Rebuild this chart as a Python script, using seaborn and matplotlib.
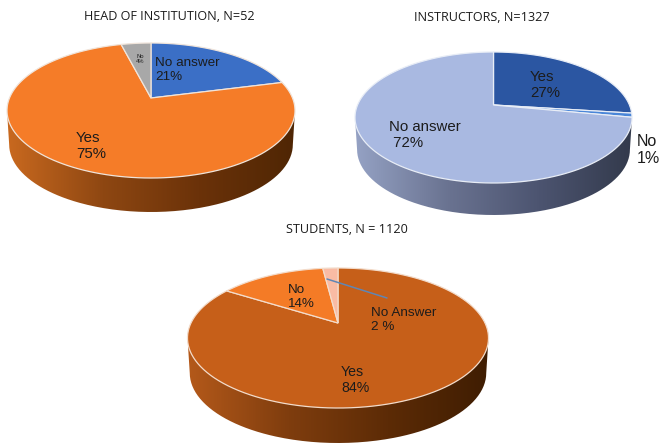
import numpy as np
import matplotlib
matplotlib.use("Agg")
import matplotlib.pyplot as plt
import matplotlib.transforms as mtransforms
from matplotlib.path import Path
from matplotlib.patches import PathPatch
from matplotlib.colors import LinearSegmentedColormap
import seaborn as sns

# ---- data ----
head_labels = ["No answer", "Yes", "No"]
head_values = [21, 75, 4]
instr_labels = ["Yes", "No", "No answer"]
instr_values = [27, 1, 72]
stud_labels = ["Yes", "No", "No Answer"]
stud_values = [84, 14, 2]

head_colors = ["#3b6fc6", "#f57c28", "#a8a8a8"]
instr_colors = ["#2b56a2", "#4a86d8", "#a9b9e1"]
stud_colors = ["#c65f19", "#f47b26", "#f9bba4"]

head_side = ["#c9691f", "#8e4712", "#6b3209", "#4f2604"]
instr_side = ["#95a2c4", "#6a7391", "#4c5470", "#333a4c"]
stud_side = ["#b4591a", "#7f3d0e", "#5c2b06", "#3f1d02"]

sns.set_theme(style="white")
TITLE_FONT = ["Open Sans", "DejaVu Sans"]
LABEL_FONT = ["Liberation Sans", "DejaVu Sans"]
INK = "#1c1c1c"


class Perspective(mtransforms.Transform):
    """Projects the unit-circle pie onto a tilted disc in pixel coordinates."""
    input_dims = output_dims = 2

    def __init__(self, cx, top, apex, bottom, rx):
        super().__init__()
        t, b = apex - top, bottom - apex
        self.k = (b - t) / (b + t)
        self.a = t * (1 + self.k)
        self.A = rx * np.sqrt(1 - self.k ** 2)
        self.cx, self.apex = cx, apex

    def transform_non_affine(self, xy):
        xy = np.asarray(xy, float)
        w = 1 + self.k * xy[:, 1]
        return np.column_stack([self.cx + self.A * xy[:, 0] / w,
                                self.apex - self.a * xy[:, 1] / w])

    def transform_path_non_affine(self, path):
        scale = mtransforms.Affine2D().scale(400)
        polys = path.to_polygons(scale, closed_only=False)
        pts = np.concatenate(polys) / 400
        return Path(self.transform_non_affine(pts), closed=True)


fig = plt.figure(figsize=(6.61, 4.43), dpi=100, facecolor="white")
ax = fig.add_axes([0, 0, 1, 1])


def draw_pie(values, colors, side, cx, top, apex, bottom, rx, depth, edge):
    ecy, ry = (top + bottom) / 2, (bottom - top) / 2
    t = np.linspace(0, np.pi, 200)
    outline = np.column_stack([cx + 0.985 * rx * np.cos(t),
                               ecy + depth + ry * np.sin(t)])
    outline = np.vstack([outline, [cx - rx, ecy], [cx + rx, ecy], outline[:1]])
    img = ax.imshow(np.linspace(0, 1, 256)[None, :], aspect="auto",
                    cmap=LinearSegmentedColormap.from_list("side", side),
                    extent=(cx - rx, cx + rx, ecy + depth + ry, ecy), zorder=1)
    clip = PathPatch(Path(outline), transform=ax.transData, fc="none", ec="none")
    ax.add_patch(clip)
    img.set_clip_path(clip)
    wedges, _ = ax.pie(values, colors=sns.color_palette(colors),
                       startangle=90, counterclock=False,
                       wedgeprops=dict(edgecolor=edge, linewidth=0.9))
    proj = Perspective(cx, top, apex, bottom, rx)
    for w in wedges:
        w.set_transform(proj + ax.transData)
        w.set_clip_on(False)
        w.set_zorder(2)


draw_pie(head_values, head_colors, head_side, 151, 43, 98, 178, 144, 34, "#f0e4da")
draw_pie(instr_values, instr_colors, instr_side, 493.5, 52, 105, 183, 138.5, 32, "#e8edf6")
draw_pie(stud_values, stud_colors, stud_side, 338, 268, 323, 408, 150.5, 35, "#f3dccb")

ax.plot([327, 387], [279, 298], color="#5f86b5", lw=1.1, zorder=3)

ax.set_aspect("auto")
ax.set_xlim(0, 661)
ax.set_ylim(443, 0)
ax.set_axis_off()


def label(x, y, name, pct, size):
    ax.text(x, y, f"{name}\n{pct}", fontsize=size, family=LABEL_FONT, color=INK,
            ha="left", va="center", linespacing=1.15, zorder=4)


for x, y, txt, in [(169, 16, "HEAD OF INSTITUTION, N=52"),
                   (482, 17, "INSTRUCTORS, N=1327"),
                   (347, 229, "STUDENTS, N = 1120")]:
    ax.text(x, y, txt, fontsize=9.1, family=TITLE_FONT, color=INK,
            ha="center", va="center", zorder=4)

label(155, 70, head_labels[0], f"{head_values[0]}%", 9.7)
label(76, 146, head_labels[1], f"{head_values[1]}%", 10.8)
ax.text(140, 59, f"{head_labels[2]}\n{head_values[2]}%", fontsize=4.2, family=LABEL_FONT,
        color=INK, ha="center", va="center", linespacing=1.2, zorder=4)

label(530, 85, instr_labels[0], f"{instr_values[0]}%", 10.8)
ax.text(389, 135, f"{instr_labels[2]}\n {instr_values[2]}%", fontsize=10.8, family=LABEL_FONT,
        color=INK, ha="left", va="center", linespacing=1.15, zorder=4)
label(637, 150, instr_labels[1], f"{instr_values[1]}%", 11.5)

label(341, 380, stud_labels[0], f"{stud_values[0]}%", 10.2)
label(288, 297, stud_labels[1], f"{stud_values[1]}%", 9.6)
ax.text(371, 320, f"{stud_labels[2]}\n{stud_values[2]} %", fontsize=9.7, family=LABEL_FONT,
        color=INK, ha="left", va="center", linespacing=1.15, zorder=4)

fig.savefig("out.png", dpi=100, facecolor="white")
